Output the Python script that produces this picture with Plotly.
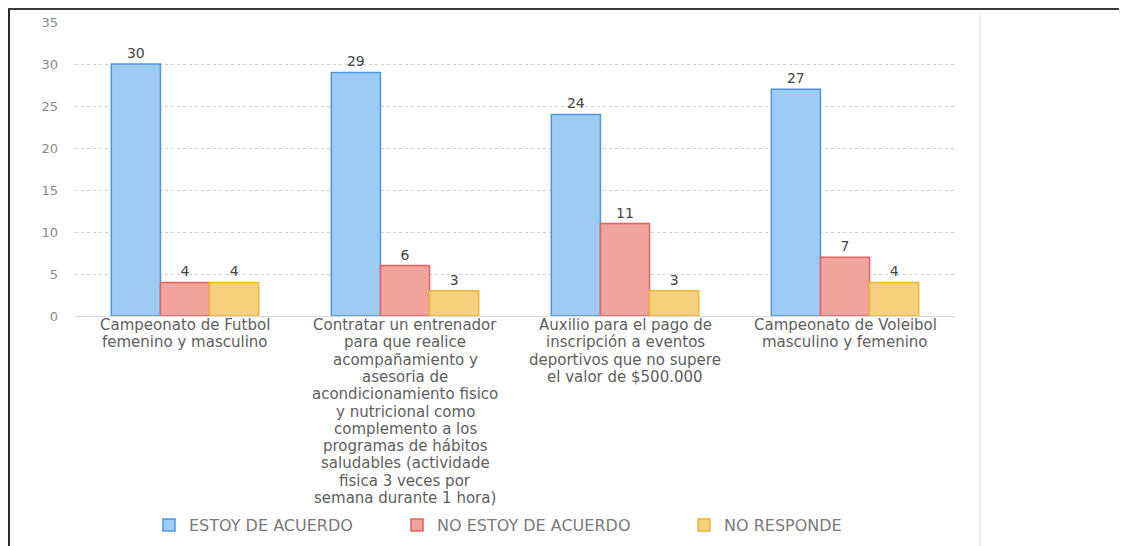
import plotly.graph_objects as go

categories = [
    "Campeonato de Futbol<br>femenino y masculino",
    "Contratar un entrenador<br>para que realice<br>acompañamiento y<br>asesoria de<br>acondicionamiento fisico<br>y nutricional como<br>complemento a los<br>programas de hábitos<br>saludables (actividade<br>fisica 3 veces por<br>semana durante 1 hora)",
    "Auxilio para el pago de<br>inscripción a eventos<br>deportivos que no supere<br>el valor de $500.000",
    "Campeonato de Voleibol<br>masculino y femenino",
]
series_names = ["ESTOY DE ACUERDO", "NO ESTOY DE ACUERDO", "NO RESPONDE"]
acuerdo = [30, 29, 24, 27]
no_acuerdo = [4, 6, 11, 7]
no_responde = [4, 3, 3, 4]
y_ticks = [0, 5, 10, 15, 20, 25, 30, 35]

fills = ["#9DCBF3", "#F2A39C", "#F6D07C"]
borders = ["#4F95DC", "#E2625C", "#EDB53A"]

W, H = 1127, 546
OFF = 8  # page body margin in the browser
# plot area in page pixels
PL, PR, PT, PB = 75, 955, 22, 316
L, T = PL - OFF, PT - OFF
R = W - (PR - OFF)
B = H - (PB - OFF)
PW, PH = PR - PL, PB - PT


def px_x(p):
    return (p - PL) / PW


def px_y(p):
    return (PB - p) / PH


legend_keys = ["legend", "legend2", "legend3"]
legend_symbol_x = [162, 410, 697]

fig = go.Figure()
for name, vals, fc, bc, lk in zip(series_names, [acuerdo, no_acuerdo, no_responde], fills, borders, legend_keys):
    fig.add_trace(go.Bar(
        name=name, x=categories, y=vals, legend=lk, showlegend=True,
        marker=dict(color=fc, line=dict(color=bc, width=1.5)),
        text=[str(v) for v in vals], textposition="outside",
        textfont=dict(family="DejaVu Sans", size=14, color="#454545"),
        cliponaxis=False,
    ))

# category labels, one text line each (keeps the tight line spacing of the original)
annotations = []
for cat in categories:
    for i, line in enumerate(cat.split("<br>")):
        annotations.append(dict(
            x=cat, xref="x", y=-(9 + 17.3 * i) / PH, yref="paper",
            text=line, showarrow=False, xanchor="center", yanchor="middle",
            font=dict(family="DejaVu Sans", size=15, color="#5e5e5e"),
        ))

shapes = [
    dict(type="line", xref="paper", yref="paper", x0=px_x(9), x1=px_x(9), y0=px_y(OFF), y1=px_y(H + OFF),
         line=dict(color="#2a2a2a", width=2)),
    dict(type="line", xref="paper", yref="paper", x0=px_x(OFF), x1=px_x(W + OFF), y0=px_y(OFF + 1), y1=px_y(OFF + 1),
         line=dict(color="#3a3a3a", width=2)),
    dict(type="line", xref="paper", yref="paper", x0=px_x(980), x1=px_x(980), y0=px_y(12), y1=px_y(H + OFF),
         line=dict(color="#e2e2e2", width=1)),
]

legend_common = dict(
    orientation="h", xanchor="left", xref="paper",
    yref="container", y=1 - (525 - OFF) / H, yanchor="middle",
    font=dict(family="DejaVu Sans", size=16, color="#7a7a7a"),
    itemwidth=30, bgcolor="rgba(0,0,0,0)", visible=True,
)

layout_legends = {}
for lk, sx in zip(legend_keys, legend_symbol_x):
    layout_legends[lk] = dict(legend_common, x=px_x(sx - 13))

fig.update_layout(
    width=W, height=H, showlegend=True,
    margin=dict(l=L, r=R, t=T, b=B, autoexpand=False),
    paper_bgcolor="white", plot_bgcolor="white",
    barmode="group", bargap=0.33, bargroupgap=0,
    font=dict(family="DejaVu Sans", color="#5a5a5a"),
    xaxis=dict(
        showticklabels=False,
        showline=True, linecolor="#d9d9d9", linewidth=1, ticks="",
        automargin=False,
    ),
    yaxis=dict(
        range=[0, 35], tickvals=y_ticks, ticks="",
        tickfont=dict(family="DejaVu Sans", size=13, color="#8a8a8a"),
        ticklabelstandoff=16,
        showgrid=True, gridcolor="#cfcfcf", gridwidth=1, griddash="dot",
        zeroline=False, showline=False, automargin=False,
    ),
    annotations=annotations,
    shapes=shapes,
    **layout_legends,
)

fig.write_html("out.html")
